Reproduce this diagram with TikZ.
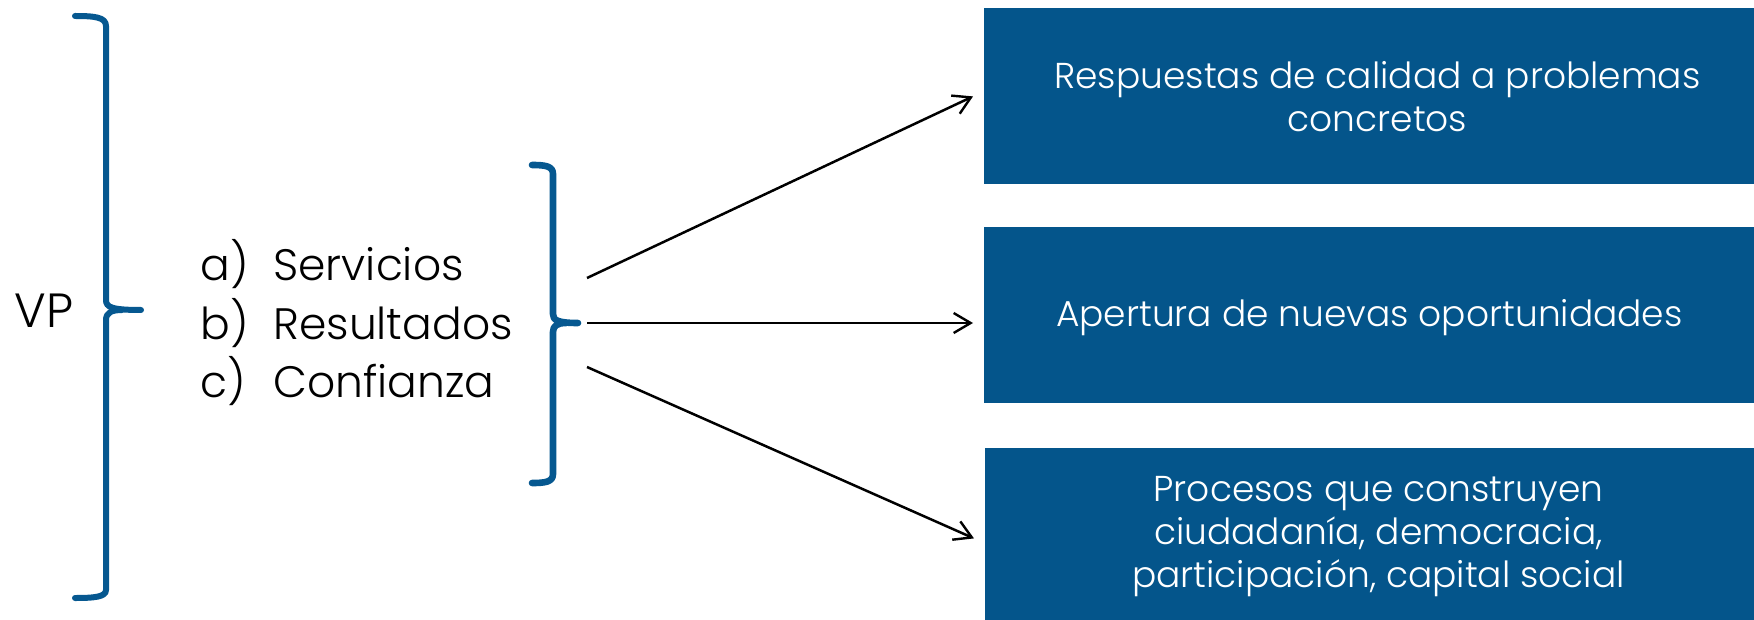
\documentclass[tikz,border=0pt]{standalone}
\usepackage{fontspec}
\setmainfont{Poppins}[UprightFont={* Light}]
\usetikzlibrary{arrows.meta,calc}
\definecolor{boxblue}{RGB}{4,85,139}
\definecolor{braceblue}{RGB}{6,88,144}
\tikzset{
  bluebox/.style={draw=none,fill=boxblue,minimum width=385pt,minimum height=88pt,inner sep=0pt,anchor=north west},
  boxtext/.style={text=white,align=center,font=\fontsize{18}{21.5}\selectfont,inner sep=0pt},
  listtext/.style={anchor=base west,inner sep=0pt,font=\fontsize{22}{26}\selectfont},
  bracepath/.style={draw=braceblue,line width=3pt,line cap=round,line join=round},
  conn/.style={draw=black,line width=1.25pt,-{Straight Barb[length=8.5pt,width=10pt,line width=1.2pt]}}
}
\begin{document}
\begin{tikzpicture}[x=0.5pt,y=-0.5pt]
\useasboundingbox (0,0) rectangle (1754,620);
% VP label
\node[anchor=base west,inner sep=0pt,font=\fontsize{24}{28}\selectfont] (vp) at (14,327) {VP};
% left brace
\path[bracepath] (75,16) .. controls (94,16) and (106,17) .. (106,26) -- (106,300)
  .. controls (106,307) and (111,310) .. (141,310);
\path[bracepath] (122,310) .. controls (111,310) and (106,313) .. (106,320) -- (106,590)
  .. controls (106,597) and (94,598) .. (75,598);
% list
\node[listtext] (la) at (200,280) {a)};
\node[listtext] (lb) at (200,339) {b)};
\node[listtext] (lc) at (200,397) {c)};
\node[listtext] (wa) at (273,280) {Servicios};
\node[listtext] (wb) at (273,339) {Resultados};
\node[listtext] (wc) at (273,397) {Confianza};
% right brace
\path[bracepath,line width=3.3pt] (532,165) .. controls (545,165) and (553,166) .. (553,174) -- (553,314)
  .. controls (553,320) and (557,323) .. (578,323);
\path[bracepath,line width=3.3pt] (566,323) .. controls (557,323) and (553,326) .. (553,332) -- (553,474)
  .. controls (553,482) and (545,483) .. (532,483);
% boxes
\node[bluebox] (b1) at (984,8) {};
\node[bluebox] (b2) at (984,227) {};
\node[bluebox] (b3) at (985,448) {};
\node[boxtext] (t1) at ([xshift=4pt]b1.center) {Respuestas de calidad a problemas\\concretos};
\node[boxtext] (t2) at ([xshift=0pt,yshift=-1pt]b2.center) {Apertura de nuevas oportunidades};
\node[boxtext] (t3) at ([xshift=4pt,yshift=0pt]b3.center) {Procesos que construyen\\ciudadanía, democracia,\\participación, capital social};
% connectors
\coordinate (s1) at (587,278);
\coordinate (s2) at (587,323);
\coordinate (s3) at (587,367);
\draw[conn] (s1) -- ([xshift=-5.5pt]b1.west);
\draw[conn] (s2) -- ([xshift=-5.5pt]s2 -| b2.west);
\draw[conn] (s3) -- ([xshift=-5.5pt,yshift=-1pt]b3.west);
\end{tikzpicture}
\end{document}
